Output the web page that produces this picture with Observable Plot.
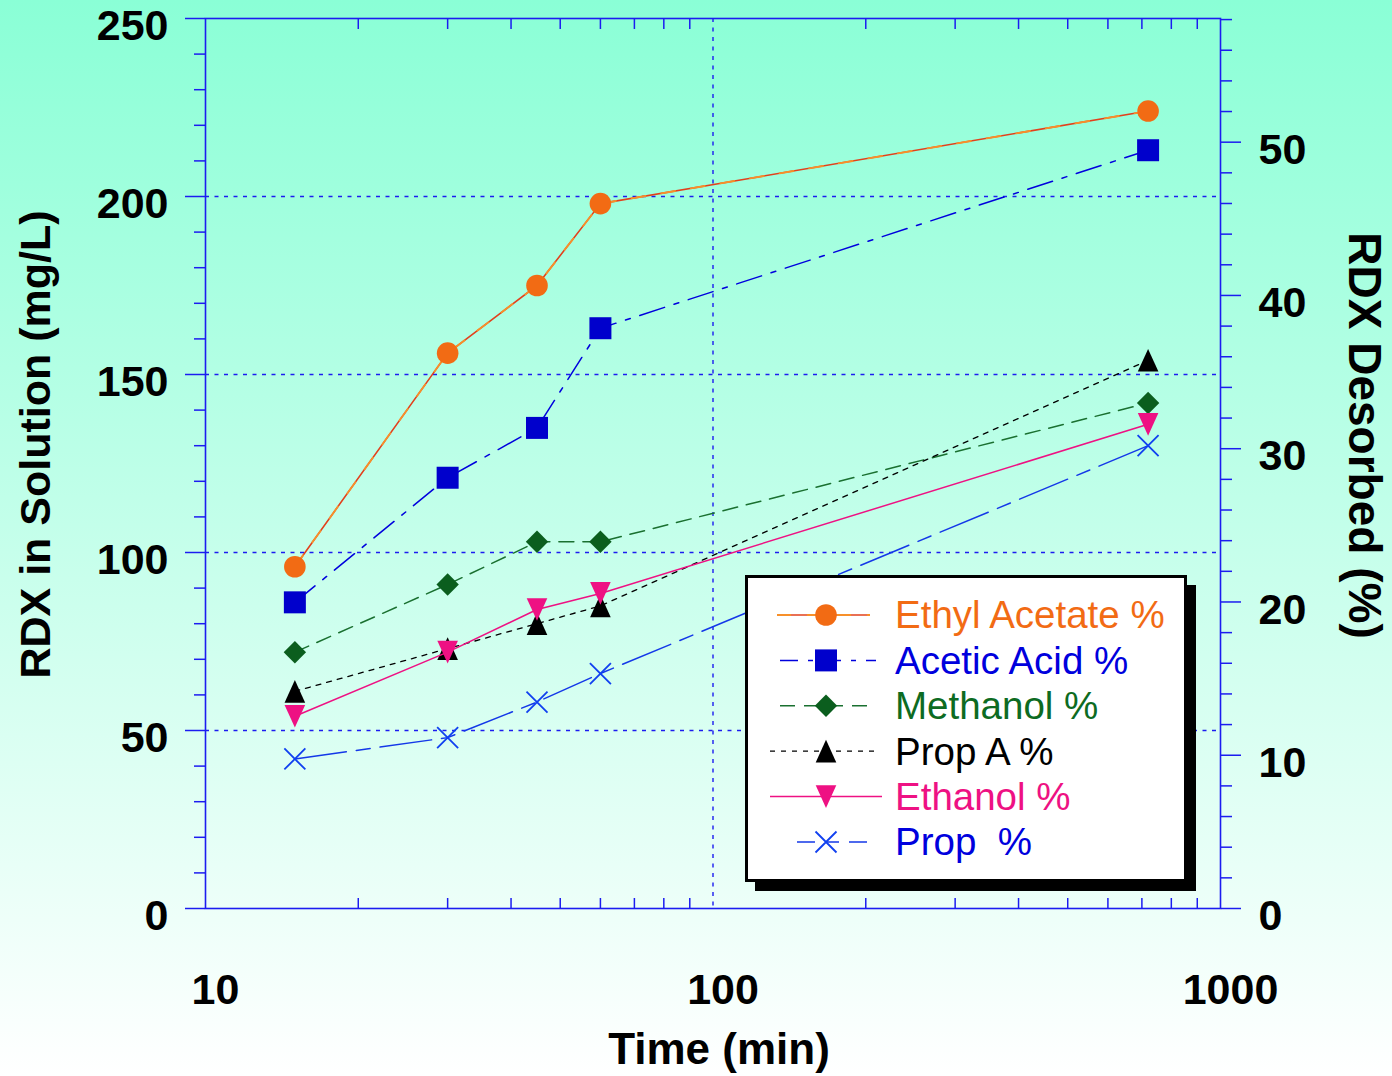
<!DOCTYPE html>
<html><head><meta charset="utf-8">
<script src="https://cdn.jsdelivr.net/npm/d3@7"></script>
<script src="https://cdn.jsdelivr.net/npm/@observablehq/plot@0.6"></script>
<style>
html,body{margin:0;padding:0;background:#fff;}
#chart{width:1392px;height:1076px;background:linear-gradient(to bottom,#8affd6 0%,#ffffff 100%);position:relative;overflow:hidden;}
#chart svg{display:block;}
</style></head><body><div id="chart"></div>
<script>
// ---- data ----
const times = [15, 30, 45, 60, 720];           // Time (min)
const ethylAcetate = [96, 156, 175, 198, 224];  // RDX in solution (mg/L)
const aceticAcid  = [86, 121, 135, 163, 213];
const methanol    = [72, 91, 103, 103, 142];
const propA       = [61, 73, 80, 85, 154];
const ethanol     = [54, 72, 84, 88.5, 136];
const prop        = [42, 48, 58, 66, 130];
const seriesNames = ["Ethyl Acetate %", "Acetic Acid %", "Methanol %", "Prop A %", "Ethanol %", "Prop  %"];
const xTickLabels = [10, 100, 1000];
const yTickLabels = [0, 50, 100, 150, 200, 250];
const pctTickLabels = [0, 10, 20, 30, 40, 50];
const yMax = 250;        // mg/L at top of the left axis
const pctMax = 58.07;    // % at top of the right axis

// ---- symbols ----
const rad = s => Math.sqrt(s / Math.PI);
const sym = {
  circle: {draw(c, s) { const r = rad(s); c.moveTo(r, 0); c.arc(0, 0, r, 0, 2 * Math.PI); c.closePath(); }},
  square: {draw(c, s) { const r = rad(s); c.moveTo(-r, -r); c.lineTo(r, -r); c.lineTo(r, r); c.lineTo(-r, r); c.closePath(); }},
  diamond: {draw(c, s) { const r = rad(s); c.moveTo(0, -r); c.lineTo(r, 0); c.lineTo(0, r); c.lineTo(-r, 0); c.closePath(); }},
  triUp: {draw(c, s) { const r = rad(s); c.moveTo(0, -1.1 * r); c.lineTo(r, 1.1 * r); c.lineTo(-r, 1.1 * r); c.closePath(); }},
  triDown: {draw(c, s) { const r = rad(s); c.moveTo(0, 1.1 * r); c.lineTo(r, -1.1 * r); c.lineTo(-r, -1.1 * r); c.closePath(); }},
  cross: {draw(c, s) { const r = rad(s); c.moveTo(-r, -r); c.lineTo(r, r); c.moveTo(r, -r); c.lineTo(-r, r); }}
};

const styles = [
  {values: ethylAcetate, text: "#F26B14", lines: [{stroke: "#E2401C", w: 1.6, dash: null}, {stroke: "#F7902A", w: 1.8, dash: "14,16"}], symbol: sym.circle, r: 10.8, fill: "#F26B14", stroke: "none", lx: [777, 870]},
  {values: aceticAcid, text: "#0000DD", lines: [{stroke: "#0000DD", w: 1.5, dash: "26,10,5,10"}], symbol: sym.square, r: 11, fill: "#0000CC", stroke: "none", lx: [780, 876]},
  {values: methanol, text: "#0D6B22", lines: [{stroke: "#1A7030", w: 1.5, dash: "15,9"}], symbol: sym.diamond, r: 11.2, fill: "#0B5E1E", stroke: "none", lx: [780, 872]},
  {values: propA, text: "#000000", lines: [{stroke: "#000000", w: 1.3, dash: "5,6"}], symbol: sym.triUp, r: 10.3, fill: "#000000", stroke: "none", lx: [770, 879]},
  {values: ethanol, text: "#EE1183", lines: [{stroke: "#EE1183", w: 1.5, dash: null}], symbol: sym.triDown, r: 10.3, fill: "#EE1183", stroke: "none", lx: [770, 882]},
  {values: prop, text: "#0000DD", lines: [{stroke: "#1438E8", w: 1.5, dash: "52,10,14,10"}], symbol: sym.cross, r: 10.5, fill: "none", stroke: "#1040F0", lx: [797, 876]}
];

const blue = "#1c1cf0";
const font = "'Liberation Sans', Arial, Helvetica, sans-serif";

const dataMarks = [];
styles.forEach((s, k) => {
  const rows = times.map((t, i) => ({t, v: s.values[i], series: seriesNames[k]}));
  s.lines.forEach(l => dataMarks.push(Plot.line(rows, {x: "t", y: "v", stroke: l.stroke, strokeWidth: l.w, strokeDasharray: l.dash})));
  dataMarks.push(Plot.dot(rows, {x: "t", y: "v", symbol: s.symbol, r: s.r, fill: s.fill, stroke: s.stroke, strokeWidth: 1.8}));
});

const xMinor = [10, 100].flatMap(d => d3.range(2, 10).map(m => m * d));
const yMinor = d3.range(0, yMax + 1, 10).filter(v => v % 50 !== 0);
const pctMinor = d3.range(0, 59, 2).filter(p => p % 10 !== 0);
const toMg = p => p * yMax / pctMax;

const tickOpts = {stroke: blue, strokeWidth: 1.5, fill: "none", label: null};
const bold = {fontWeight: "bold", fill: "#000"};

const chart = Plot.plot({
  width: 1392, height: 1076,
  marginLeft: 205, marginRight: 172, marginTop: 18, marginBottom: 168,
  x: {type: "log", domain: [10, 1000]},
  y: {domain: [0, yMax]},
  style: {background: "transparent", fontFamily: font, overflow: "visible"},
  marks: [
    Plot.gridY([50, 100, 150, 200], {stroke: blue, strokeOpacity: 1, strokeWidth: 1.4, strokeDasharray: "4,5.5"}),
    Plot.gridX([100], {stroke: blue, strokeOpacity: 1, strokeWidth: 1.4, strokeDasharray: "4,5.5"}),
    Plot.axisY(yTickLabels, {anchor: "left", tickSize: 20, ...tickOpts}),
    Plot.axisY(yMinor, {anchor: "left", tickSize: 11, ...tickOpts}),
    Plot.axisY(pctTickLabels.map(toMg), {anchor: "right", tickSize: 20, ...tickOpts}),
    Plot.axisY(pctMinor.map(toMg), {anchor: "right", tickSize: 11, ...tickOpts}),
    Plot.axisX(xMinor, {anchor: "bottom", tickSize: -10, ...tickOpts}),
    Plot.axisX(xMinor, {anchor: "top", tickSize: -10, ...tickOpts}),
    Plot.frame({stroke: blue, strokeWidth: 1.6}),
    ...dataMarks,
    Plot.text(yTickLabels, {y: d => d, text: d => String(d), frameAnchor: "left", dx: -37, dy: 8, textAnchor: "end", lineAnchor: "middle", fontSize: 43, ...bold}),
    Plot.text(pctTickLabels, {y: d => toMg(d), text: d => String(d), frameAnchor: "right", dx: 38, dy: 8, textAnchor: "start", lineAnchor: "middle", fontSize: 43, ...bold}),
    Plot.text(xTickLabels, {x: d => d, text: d => String(d), frameAnchor: "bottom", dx: 10, dy: 82, textAnchor: "middle", lineAnchor: "middle", fontSize: 43, ...bold}),
    Plot.text(["Time (min)"], {frameAnchor: "bottom", dx: 6, dy: 141, textAnchor: "middle", lineAnchor: "middle", fontSize: 44, ...bold}),
    Plot.text(["RDX in Solution (mg/L)"], {frameAnchor: "left", dx: -169, dy: -19, rotate: -90, textAnchor: "middle", lineAnchor: "middle", fontSize: 43, ...bold}),
    Plot.text(["RDX Desorbed (%)"], {frameAnchor: "right", dx: 143, dy: -28, rotate: 90, textAnchor: "middle", lineAnchor: "middle", fontSize: 46, ...bold})
  ]
});

document.getElementById("chart").appendChild(chart);

// ---- legend box ----
const svg = d3.select(chart);
const lg = svg.append("g").attr("class", "legend").attr("text-anchor", "start");
lg.append("rect").attr("x", 755).attr("y", 585).attr("width", 441).attr("height", 306).attr("fill", "#000");
lg.append("rect").attr("x", 746.5).attr("y", 576.5).attr("width", 439).attr("height", 304).attr("fill", "#fff").attr("stroke", "#000").attr("stroke-width", 3);
const rowY0 = 615, rowStep = 45.4, markX = 826, textX = 895;
styles.forEach((s, k) => {
  const y = rowY0 + k * rowStep;
  s.lines.forEach(l => {
    lg.append("line").attr("x1", s.lx[0]).attr("x2", s.lx[1]).attr("y1", y).attr("y2", y)
      .attr("stroke", l.stroke).attr("stroke-width", l.w).attr("stroke-dasharray", l.dash ? l.dash.split(",").map(v => Math.min(+v, 18)).join(",") : null);
  });
  lg.append("path").attr("transform", `translate(${markX},${y})`)
    .attr("d", d3.symbol().type(s.symbol).size(Math.PI * s.r * s.r)())
    .attr("fill", s.fill).attr("stroke", s.stroke).attr("stroke-width", 1.8);
  lg.append("text").attr("x", textX).attr("y", y).attr("dy", "0.35em")
    .attr("text-anchor", "start")
    .attr("font-family", font).attr("font-size", 38.5).attr("fill", s.text)
    .style("white-space", "pre").attr("xml:space", "preserve")
    .text(seriesNames[k]);
});
</script></body></html>
